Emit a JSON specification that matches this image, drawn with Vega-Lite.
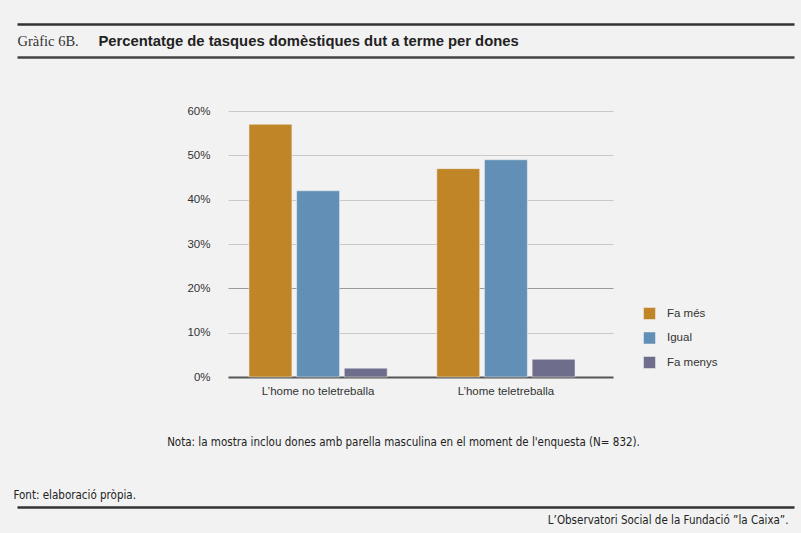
{
  "$schema": "https://vega.github.io/schema/vega-lite/v6.json",
  "description": "Gràfic 6B. Percentatge de tasques domèstiques dut a terme per dones",
  "autosize": "none",
  "width": 385,
  "height": 266,
  "padding": {"left": 228, "top": 111, "right": 188, "bottom": 156},
  "background": "#f2f2f2",
  "data": {
    "values": [
      {"grup": "L’home no teletreballa", "resposta": "Fa més", "valor": 0.57},
      {"grup": "L’home no teletreballa", "resposta": "Igual", "valor": 0.42},
      {"grup": "L’home no teletreballa", "resposta": "Fa menys", "valor": 0.02},
      {"grup": "L’home teletreballa", "resposta": "Fa més", "valor": 0.47},
      {"grup": "L’home teletreballa", "resposta": "Igual", "valor": 0.49},
      {"grup": "L’home teletreballa", "resposta": "Fa menys", "valor": 0.04}
    ]
  },
  "layer": [
    {
      "mark": {"type": "bar"},
      "encoding": {
        "x": {
          "field": "grup", "type": "nominal", "sort": null,
          "scale": {"paddingInner": 0.264, "paddingOuter": 0.157, "align": 0.356},
          "axis": {
            "labelAngle": 0, "labelFont": "Liberation Sans", "labelFontSize": 11.5, "labelColor": "#333",
            "labelPadding": 8, "ticks": false, "domainColor": "#555", "domainWidth": 2,
            "title": "Nota: la mostra inclou dones amb parella masculina en el moment de l'enquesta (N= 832).",
            "titleFont": "DejaVu Sans Condensed, Roboto Condensed, Roboto", "titleFontSize": 11.5, "titleFontWeight": "normal", "titleColor": "#222",
            "titleX": 175, "titleY": 68, "titleBaseline": "alphabetic", "titleAlign": "center"
          }
        },
        "xOffset": {
          "field": "resposta", "type": "nominal", "sort": ["Fa més", "Igual", "Fa menys"],
          "scale": {"paddingInner": 0.1, "paddingOuter": 0}
        },
        "y": {
          "field": "valor", "type": "quantitative",
          "scale": {"domain": [0, 0.6], "nice": false},
          "axis": {
            "values": [0, 0.1, 0.2, 0.3, 0.4, 0.5, 0.6], "format": ".0%",
            "labelFont": "Liberation Sans", "labelFontSize": 11.5, "labelColor": "#333", "labelPadding": 18,
            "ticks": false, "domain": false,
            "gridColor": {"condition": {"test": "datum.value === 0.2", "value": "#9a9a9a"}, "value": "#c9c9c9"},
            "gridWidth": 1,
            "title": "Font: elaboració pròpia.",
            "titleFont": "DejaVu Sans Condensed, Roboto Condensed, Roboto", "titleFontSize": 11.5, "titleFontWeight": "normal", "titleColor": "#222",
            "titleAngle": 0, "titleX": -215, "titleY": 387, "titleAlign": "left", "titleBaseline": "alphabetic"
          }
        },
        "color": {
          "field": "resposta", "type": "nominal", "sort": ["Fa més", "Igual", "Fa menys"],
          "scale": {"domain": ["Fa més", "Igual", "Fa menys"], "range": ["#c08527", "#628fb5", "#6e6e8c"]},
          "legend": {
            "title": null, "orient": "none", "legendX": 415, "legendY": 196,
            "symbolType": "square", "symbolSize": 144, "symbolStrokeWidth": 0, "symbolOpacity": 1,
            "labelFont": "Liberation Sans", "labelFontSize": 11.5, "labelColor": "#333",
            "labelOffset": 11, "rowPadding": 9.5
          }
        }
      }
    },
    {
      "mark": {"type": "point", "opacity": 0},
      "encoding": {
        "x": {
          "field": "grup", "type": "nominal", "sort": null,
          "scale": {"type": "point", "range": [-211, 566]},
          "axis": {
            "orient": "top", "offset": 87, "labels": false, "ticks": false, "grid": false,
            "domainColor": "#333", "domainWidth": 2.5,
            "title": "Percentatge de tasques domèstiques dut a terme per dones",
            "titleFont": "Liberation Sans", "titleFontSize": 14.8, "titleFontWeight": "bold", "titleColor": "#222",
            "titleX": -130, "titleY": 21, "titleAlign": "left", "titleBaseline": "alphabetic"
          }
        },
        "y": {
          "field": "valor", "type": "quantitative",
          "scale": {"domain": [0, 0.6], "nice": false},
          "axis": {
            "orient": "right", "labels": false, "ticks": false, "domain": false, "grid": false,
            "title": "L’Observatori Social de la Fundació ”la Caixa”.",
            "titleFont": "DejaVu Sans Condensed, Roboto Condensed, Roboto", "titleFontSize": 11.5, "titleFontWeight": "normal", "titleColor": "#222",
            "titleAngle": 0, "titleX": 175, "titleY": 412, "titleAlign": "right", "titleBaseline": "alphabetic"
          }
        }
      }
    },
    {
      "mark": {"type": "point", "opacity": 0},
      "encoding": {
        "x": {
          "field": "grup", "type": "nominal", "sort": null,
          "scale": {"type": "point", "range": [-211, 566]},
          "axis": {
            "orient": "top", "offset": 54, "labels": false, "ticks": false, "grid": false,
            "domainColor": "#444", "domainWidth": 2.5,
            "title": "Gràfic 6B.",
            "titleFont": "Liberation Serif", "titleFontSize": 14.5, "titleFontWeight": "normal", "titleColor": "#333",
            "titleX": -211, "titleY": -12, "titleAlign": "left", "titleBaseline": "alphabetic"
          }
        }
      }
    },
    {
      "mark": {"type": "point", "opacity": 0},
      "encoding": {
        "x": {
          "field": "grup", "type": "nominal", "sort": null,
          "scale": {"type": "point", "range": [-211, 566]},
          "axis": {
            "orient": "bottom", "offset": 130, "labels": false, "ticks": false, "grid": false,
            "domainColor": "#333", "domainWidth": 2.5, "title": null
          }
        }
      }
    }
  ],
  "resolve": {"scale": {"x": "independent", "y": "independent"}},
  "config": {
    "view": {"stroke": null},
    "bar": {"stroke": "#f2f2f2", "strokeWidth": 0.5}
  }
}
